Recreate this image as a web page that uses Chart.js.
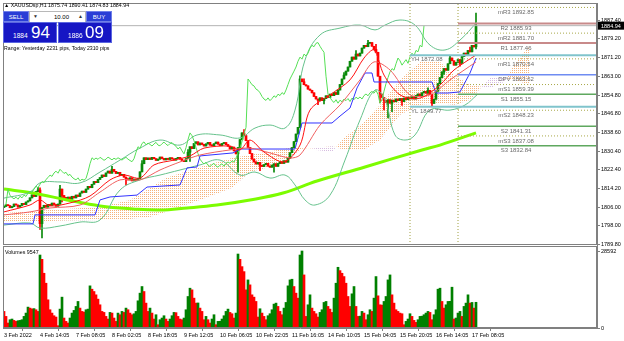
<!DOCTYPE html>
<html>
<head>
<meta charset="utf-8">
<script src="https://cdn.jsdelivr.net/npm/chart.js@4.4.1/dist/chart.umd.min.js"></script>
<style>
  body { margin: 0; background: #fff; width: 624px; height: 341px; overflow: hidden; position: relative;
         font-family: "Liberation Sans", Arial, sans-serif; }
  canvas { position: absolute; left: 0; }
  #main { top: 0; }
  #vol { top: 245px; }
  .abs { position: absolute; white-space: nowrap; }
  #title { left: 4px; top: 2px; font-size: 5.3px; line-height: 7px; color: #000; }
  .btn { background: #2a3ed6; color: #fff; font-size: 6px; text-align: center; line-height: 11px; height: 11px; border: 1px solid #6f7fe8; box-sizing: border-box; }
  #lot { left: 29px; top: 11px; width: 57px; height: 12px; background: #fff; border: 1px solid #b8b8b8; box-sizing: border-box; font-size: 6px; }
  .price { background: #1616c4; color: #fff; height: 21px; top: 22px; border: 1px solid #5a66e0; box-sizing: border-box; }
  .price .sm { position: absolute; bottom: 3px; font-size: 6.6px; }
  .price .big { position: absolute; top: 0px; font-size: 17px; line-height: 19px; }
  #range { left: 4px; top: 45px; font-size: 5.2px; color: #000; }
  #vlabel { left: 5px; top: 249px; font-size: 5.3px; color: #000; }
</style>
</head>
<body>
<canvas id="main" width="624" height="250"></canvas>
<canvas id="vol" width="624" height="96"></canvas>

<div id="title" class="abs"></div>
<div class="abs btn" style="left:3px;top:11px;width:26px;">SELL</div>
<div id="lot" class="abs">
  <span class="abs" style="left:3px;top:1px;font-size:5px;color:#333;">&#9660;</span>
  <span class="abs" style="left:24px;top:2px;color:#000;">10.00</span>
  <span class="abs" style="left:48px;top:1px;font-size:5px;color:#333;">&#9650;</span>
</div>
<div class="abs btn" style="left:86px;top:11px;width:26px;">BUY</div>
<div class="abs price" style="left:3px;width:54px;"><span class="sm" style="left:9px;" id="bidSm"></span><span class="big" style="left:27px;" id="bidBig"></span></div>
<div class="abs price" style="left:58px;width:54px;"><span class="sm" style="left:9px;" id="askSm"></span><span class="big" style="left:26px;" id="askBig"></span></div>
<div id="range" class="abs"></div>
<div id="vlabel" class="abs"></div>

<script>
// ---- data (XAUUSDsp, H1) ----
const symbol = 'XAUUSDsp,H1';
const firstOpen = 1806.0;
const closes = [
  1806.5,1807.2,1806.8,1805.9,1806.4,1807.5,1807.1,1806.2,1806.9,1807.8,1807.3,1808.4,1808.9,
  1810.2,1811.5,1810.8,1812.9,
  1813.6,
  1799.0,1806.0,
  1807.0,1806.2,1807.4,1806.8,1807.9,1807.3,1806.6,1807.5,
  1814.0,
  1811.2,1810.4,1809.8,1810.5,1809.6,1810.9,1810.2,
  1811.4,1810.8,1812.3,1813.1,1812.6,1814.0,1815.2,1814.6,1816.1,1817.3,1816.8,1818.2,1819.0,
  1820.1,1819.5,1821.0,1821.8,1820.9,1822.6,1821.7,
  1820.8,1821.3,1819.9,1820.4,1819.2,1818.5,
  1818.0,1818.9,1817.6,1818.3,1817.9,1818.6,
  1821.5,1825.0,1827.6,
  1826.8,1827.5,1826.9,1827.8,1827.2,1826.5,1827.0,1827.9,1827.3,1826.7,1827.4,1826.9,1827.6,1827.1,1826.6,1827.3,1827.8,1827.0,1826.4,1825.9,1827.2,
  1830.0,1832.4,
  1831.6,1833.8,1834.5,1833.2,1834.0,1833.4,1832.7,1833.6,1834.3,1833.1,1832.8,1833.7,1834.4,1833.5,1832.9,1833.8,1834.2,1833.3,1832.6,
  1831.4,1832.2,1830.6,1829.3,
  1832.0,1835.5,1838.4,1837.2,
  1835.0,1832.1,1829.4,1827.0,1825.8,
  1824.9,1825.6,1824.3,1823.8,1824.6,1825.2,1824.0,1823.5,1824.4,1825.0,1823.9,
  1825.1,1825.8,1825.2,1826.3,1825.7,
  1827.4,1829.8,1832.0,1834.6,1837.9,1840.8,
  1861.8,
  1860.6,1859.3,1858.8,1857.4,1856.9,1855.8,
  1854.2,1853.1,1852.5,1853.6,1852.4,1853.3,
  1854.5,1853.8,1855.2,1854.6,1855.9,1855.1,
  1857.0,1859.4,1861.8,1863.5,1865.2,1867.0,
  1869.5,1871.3,1870.4,1872.6,1871.8,1873.0,
  1875.2,1876.4,1875.8,1877.3,1877.6,
  1876.0,1874.6,1873.4,
  1863.0,1855.2,
  1853.8,1852.4,1851.6,1852.8,1851.3,1852.6,1851.9,1853.1,
  1852.4,1853.3,1852.0,1853.5,1852.8,1853.9,1853.2,
  1854.0,1853.1,1854.6,1855.3,1854.5,1855.8,1856.4,1855.6,1856.9,1855.1,1851.2,1853.0,
  1856.5,1859.8,1862.4,1864.9,1866.3,1865.6,
  1868.4,1870.9,1869.7,1867.8,1869.01,
  1870.2,1868.6,1871.5,1873.0,1871.9,1874.2,1873.6,1876.4,1875.74,
  1884.94
];
// visible wicks only: [bar, price]
const wickHighs = [[17,1814.8],[18,1814.6],[28,1815.6],[54,1823.9],[69,1826.4],[92,1831.2],[120,1839.8],[148,1863.2],
  [150,1861.9],[170,1864.6],[176,1874.1],[182,1878.6],[186,1876.8],[212,1858.0],[223,1872.08],[233,1875.6],[236,1890.41]];
const wickLows = [[18,1796.5],[19,1792.8],[29,1808.4],[61,1815.8],[93,1826.0],[117,1821.4],[128,1822.0],[135,1821.4],
  [157,1850.6],[160,1851.0],[188,1851.5],[190,1848.4],[192,1844.9],[194,1847.6],[199,1850.3],[214,1849.77],[220,1863.8],
  [228,1867.31],[236,1874.83]];

const volumes = [
  6160,4310,1850,3080,3330,2830,2460,2710,2830,3080,
  4310,5540,7760,7390,7100,7200,6780,6160,27100,25500,
  20330,16630,10470,6780,5540,4560,4070,860,7020,11460,
  3700,2460,1850,3700,5540,6530,8010,9860,7390,6160,
  5910,6780,7020,15650,14410,13550,12320,10720,8620,6160,
  5790,4310,3330,5790,5540,3700,2460,5540,4930,6160,
  5790,7390,6780,5540,4930,5300,6160,10100,12940,15400,
  13550,9240,6160,7390,5540,3330,4930,1230,3080,3700,
  4560,3330,2460,3330,4560,5790,5700,4310,3330,3080,
  3700,6780,11700,14780,14170,11090,9240,9300,7390,6160,
  3080,4310,3080,1850,3330,4930,1230,2460,2500,3330,
  4560,6160,7020,5790,5300,3700,5540,27470,25500,22790,
  20940,14170,17860,16020,12320,11460,9860,4070,7150,5540,
  4310,3080,4560,5300,6780,8870,9240,8010,6160,4930,
  7390,9490,15650,17860,18110,15400,12940,11090,27100,28592,
  19710,4310,8620,12320,7390,6160,5300,4070,5790,6780,
  9490,9860,8010,7020,5790,11090,16630,22550,21310,20330,
  19100,16630,11700,8010,12690,15400,8010,4310,4400,6160,
  5540,3080,4930,6780,6160,11090,19100,11950,8620,8500,
  9860,11700,17860,19710,12320,9240,6780,6160,5540,5300,
  1230,2460,3330,5300,4310,2830,2090,3080,4310,4400,
  4930,5540,6160,5790,3080,4930,6780,14410,14780,9860,
  7390,8620,9860,9900,15150,3330,3700,5540,6160,4310,
  8010,9240,12320,9240,9490,7390,9547
];

const labelIdx = [0,18,36,54,72,90,108,126,144,162,180,198,216,234];
const timeLabels = ['3 Feb 2022','4 Feb 14:05','7 Feb 08:05','8 Feb 02:05','8 Feb 18:05','9 Feb 12:05',
  '10 Feb 06:05','10 Feb 22:05','11 Feb 16:05','14 Feb 10:05','15 Feb 04:05','15 Feb 20:05','16 Feb 14:05','17 Feb 08:05'];
const priceTicks = [1887.4,1879.2,1871.2,1863.0,1854.8,1846.8,1838.6,1830.4,1822.4,1814.2,1806.0,1798.0,1789.8];

// indicator lines as [bar, price]
const slowMA = [[0,1814.0],[14.5,1812.3],[31.5,1809.3],[48,1806.7],[64.5,1805.4],[78,1804.9],[91.5,1805.8],[106.5,1807.1],
  [123,1809.3],[139.5,1812.3],[156.5,1817.5],[180.5,1823.6],[209,1831.0],[218,1833.1],[236,1838.4]];
const kijun = [[0,1798.9],[14.5,1798.9],[15.5,1802.8],[45.5,1802.8],[48,1809.3],[53,1810.6],[66.5,1811.4],[71.5,1814.9],
  [88,1815.8],[91.5,1823.2],[96.5,1823.6],[98,1828.4],[114.5,1829.7],[118,1831.4],[145.5,1831.4],[149,1842.7],[164,1842.7],
  [168,1845.7],[173,1849.2],[176.5,1857.9],[180.5,1864.4],[184,1864.4],[185,1860.5],[214,1860.5],[216,1855.7],[222,1855.7],
  [228,1856.2],[233,1864.4],[236,1870.9]];
const fastRed = [[0,1804.1],[13,1807.1],[18,1809.3],[23,1806.7],[33,1808.0],[43,1811.0],[53,1818.0],[60,1820.1],[68,1818.8],
  [75,1824.5],[85,1826.6],[93,1828.4],[100,1831.8],[113,1832.7],[118,1831.0],[123,1835.3],[130,1830.1],[140,1825.8],[148,1833.1],
  [153,1848.3],[163,1854.9],[173,1861.4],[180,1870.9],[185,1874.4],[190,1863.5],[198,1854.9],[208,1853.5],[218,1859.2],
  [225,1865.7],[236,1872.2]];
const slowRed = [[0,1802.8],[13,1804.1],[23,1805.8],[38,1807.1],[48,1812.7],[58,1818.0],[68,1818.0],[78,1822.3],[88,1825.8],
  [98,1828.8],[113,1831.0],[123,1831.8],[133,1829.7],[143,1827.5],[148,1828.8],[158,1841.8],[168,1850.5],[178,1861.4],
  [185,1869.2],[193,1865.7],[203,1854.9],[213,1854.9],[223,1861.4],[236,1869.2]];
const bbUpper = [[0,1810.1],[13,1812.7],[18,1816.7],[28,1817.1],[38,1816.7],[48,1821.4],[58,1826.6],[68,1831.8],[78,1835.3],
  [88,1833.1],[96.5,1837.5],[108,1837.5],[118,1836.2],[125.5,1840.5],[133,1841.8],[140.5,1840.5],[145.5,1848.3],[150.5,1870.0],
  [158,1880.9],[168,1883.9],[178,1885.2],[185.5,1883.1],[190.5,1885.2],[198,1887.4],[205.5,1885.2],[213,1876.5],[220.5,1874.4],
  [228,1878.7],[236.5,1886.5]];
const bbLower = [[0,1798.4],[13,1799.3],[18,1797.1],[28,1798.0],[38,1799.7],[48,1800.6],[58,1813.6],[68,1818.0],[78,1820.1],
  [88,1822.3],[98,1824.5],[108,1826.6],[118,1820.1],[125.5,1821.4],[133,1818.8],[140.5,1820.1],[145.5,1815.8],[150.5,1809.3],
  [155.5,1807.1],[163,1811.4],[170.5,1826.6],[178,1844.0],[185.5,1857.0],[190.5,1852.7],[195.5,1837.5],[200.5,1835.3],
  [205.5,1837.5],[213,1848.3],[223,1848.3],[230.5,1850.5],[236.5,1854.9]];
const cloudIdx = [0,23,48,63,73,81,98,114,123,131,143,148,164,170,180,188,198,208,218,225,233,243,250,255,263];
const senkouA = [1803.6,1804.9,1806.2,1809.3,1814.5,1818.8,1823.6,1827.5,1828.8,1830.1,1831.8,1831.8,1830.1,1836.2,
  1843.1,1850.5,1861.4,1869.2,1869.2,1863.5,1859.2,1857.9,1860.5,1867.9,1876.5];
const senkouB = [1799.7,1800.2,1800.6,1801.0,1801.9,1804.1,1809.3,1814.5,1821.4,1823.2,1827.5,1831.0,1832.7,1831.0,
  1831.0,1835.3,1846.2,1850.5,1851.4,1850.5,1852.7,1862.2,1862.2,1861.4,1859.2];
const chikouShift = 26;

const pivotNames = ['mR3','R2','mR2','R1','mR1','DPV','mS1','S1','mS2','S2','mS3','S3'];
const pivotValues = [1892.85,1885.93,1881.70,1877.46,1870.54,1863.62,1859.39,1855.15,1848.23,1841.31,1837.08,1832.84];
const dayNames = ['YH','YL'];
const dayValues = [1872.08,1849.77];
const daySeps = [203, 227];
const askPrice = 1886.09;

// ---- derived ----
const N = closes.length;
const X_MIN = -0.5, X_MAX = 296.5;
const PRICE_MIN = 1789.74, PRICE_MAX = 1894.78;
const opens = closes.map((c, i) => i === 0 ? firstOpen : closes[i - 1]);
const highs = closes.map((c, i) => Math.max(c, opens[i]));
const lows = closes.map((c, i) => Math.min(c, opens[i]));
wickHighs.forEach(([i, v]) => { highs[i] = v; });
wickLows.forEach(([i, v]) => { lows[i] = v; });
const last = N - 1;

const BULL = '#0a8a0a', BEAR = '#ff0000';
const FONT = '"Liberation Sans", Arial, sans-serif';
const candleColors = closes.map((c, i) => c >= opens[i] ? BULL : BEAR);
const volColors = volumes.map((v, i) => i > 0 && v > volumes[i - 1] ? '#008000' : '#ff0000');

const mainCtx = document.getElementById('main').getContext('2d');
function dots(color) {
  const c = document.createElement('canvas');
  c.width = 2; c.height = 2;
  const g = c.getContext('2d');
  g.fillStyle = color;
  g.fillRect(0, 0, 1, 1);
  return mainCtx.createPattern(c, 'repeat');
}
const pts = arr => arr.map(p => ({x: p[0], y: p[1]}));
function line(data, color, width, order, extra) {
  return Object.assign({type: 'line', data, borderColor: color, borderWidth: width, pointRadius: 0,
    fill: false, order, tension: 0}, extra || {});
}

const datasets = [
  line(cloudIdx.map((x, k) => ({x, y: senkouA[k]})), 'rgba(0,0,0,0)', 0, 30,
    {fill: {target: '+1', above: dots('#f5b27a'), below: dots('#d6bce0')}}),
  line(cloudIdx.map((x, k) => ({x, y: senkouB[k]})), 'rgba(0,0,0,0)', 0, 30),
  {type: 'bar', data: closes.map((c, i) => ({x: i, y: [lows[i], highs[i]]})), backgroundColor: candleColors,
    barThickness: 1, grouped: false, order: 25},
  {type: 'bar', data: closes.map((c, i) => ({x: i, y: [opens[i], c]})), backgroundColor: candleColors,
    barThickness: 2, grouped: false, minBarLength: 1, order: 24},
  line(pts(slowMA), '#7cfc00', 3, 20, {tension: 0.4}),
  line(pts(bbUpper), '#66c28c', 1, 19, {tension: 0.4}),
  line(pts(bbLower), '#66c28c', 1, 19, {tension: 0.4}),
  line(closes.slice(chikouShift).map((c, k) => ({x: k, y: c})), '#55e055', 1, 18),
  line(pts(kijun), '#3232ff', 1, 17),
  line(pts(slowRed), '#f06060', 1, 16, {tension: 0.3}),
  line(pts(fastRed), '#ff1010', 1, 15, {tension: 0.3}),
  line([{x: X_MIN, y: closes[last]}, {x: X_MAX, y: closes[last]}], '#b4b4b4', 1, 14)
];
daySeps.forEach(s => datasets.push(line([{x: s, y: PRICE_MIN}, {x: s, y: PRICE_MAX}], '#a0a040', 1, 13, {borderDash: [1, 2]})));
dayValues.forEach(v => datasets.push(line([{x: daySeps[0], y: v}, {x: X_MAX, y: v}], '#80c4cc', 2, 12)));
pivotNames.forEach((n, k) => {
  const v = pivotValues[k];
  let color = '#5fa85f', w = 1.5, dash = [];
  if (n[0] === 'm') { color = '#a8a848'; w = 1; dash = [1, 2]; }
  else if (n[0] === 'R') { color = '#c88a8a'; w = 2; }
  else if (n === 'DPV') { color = '#6f8cf2'; w = 1.5; }
  datasets.push(line([{x: daySeps[1], y: v}, {x: X_MAX, y: v}], color, w, 11, {borderDash: dash}));
});

const frame = {
  id: 'frame',
  afterDraw(chart) {
    const {ctx, chartArea: a} = chart;
    ctx.save();
    ctx.strokeStyle = '#808080';
    ctx.lineWidth = 1;
    ctx.strokeRect(a.left + 0.5, a.top + 0.5, a.right - a.left - 1, a.bottom - a.top - 1);
    ctx.restore();
  }
};
const levelText = {
  id: 'levelText',
  afterDatasetsDraw(chart) {
    const {ctx, scales: {x, y}} = chart;
    ctx.save();
    ctx.font = '6px ' + FONT;
    ctx.fillStyle = '#6a6a6a';
    ctx.textBaseline = 'middle';
    ctx.textAlign = 'center';
    const cx = x.getPixelForValue(256);
    pivotNames.forEach((n, k) => ctx.fillText(n + ' ' + pivotValues[k].toFixed(2), cx, y.getPixelForValue(pivotValues[k]) + 5));
    ctx.textAlign = 'left';
    dayNames.forEach((n, k) => ctx.fillText(n + ' ' + dayValues[k].toFixed(2), x.getPixelForValue(daySeps[0]) + 1, y.getPixelForValue(dayValues[k]) + 4.5));
    ctx.restore();
  },
  afterDraw(chart) {
    const {ctx, chartArea: a, scales: {y}} = chart;
    const py = y.getPixelForValue(closes[last]);
    ctx.save();
    ctx.fillStyle = '#000';
    ctx.fillRect(a.right + 1, py - 4, 26, 8);
    ctx.fillStyle = '#fff';
    ctx.font = '5.5px ' + FONT;
    ctx.textBaseline = 'middle';
    ctx.fillText(closes[last].toFixed(2), a.right + 4, py + 0.5);
    ctx.restore();
  }
};

new Chart(mainCtx, {
  type: 'bar',
  data: {datasets},
  options: {
    responsive: false,
    animation: false,
    events: [],
    layout: {padding: {left: 3, top: 3, right: 0, bottom: 5}, autoPadding: false},
    plugins: {legend: {display: false}, tooltip: {enabled: false}},
    scales: {
      x: {type: 'linear', min: X_MIN, max: X_MAX, offset: false, display: false},
      y: {
        type: 'linear', position: 'right', min: PRICE_MIN, max: PRICE_MAX,
        afterBuildTicks: s => { s.ticks = priceTicks.map(v => ({value: v})); },
        afterFit: s => { s.width = 27; s.paddingTop = 0; s.paddingBottom = 0; },
        ticks: {autoSkip: false, padding: 1, color: '#000', font: {family: FONT, size: 5.5},
                callback: v => v.toFixed(2)},
        grid: {drawOnChartArea: false, tickLength: 3, color: '#808080'},
        border: {color: '#808080'}
      }
    }
  },
  plugins: [frame, levelText]
});

const volMaxTick = Math.max(...volumes);
new Chart(document.getElementById('vol'), {
  type: 'bar',
  data: {datasets: [{data: volumes.map((v, i) => ({x: i, y: v})), backgroundColor: volColors,
    barThickness: 2, grouped: false}]},
  options: {
    responsive: false,
    animation: false,
    events: [],
    layout: {padding: {left: 3, top: 1, right: 0, bottom: 0}, autoPadding: false},
    plugins: {legend: {display: false}, tooltip: {enabled: false}},
    scales: {
      x: {
        type: 'linear', min: X_MIN, max: X_MAX, offset: false,
        afterBuildTicks: s => { s.ticks = labelIdx.map(v => ({value: v})); },
        afterFit: s => { s.height = 13; s.paddingLeft = 0; s.paddingRight = 0; },
        ticks: {autoSkip: false, maxRotation: 0, align: 'start', padding: 1, color: '#000',
                font: {family: FONT, size: 5.5}, callback: v => timeLabels[labelIdx.indexOf(v)]},
        grid: {drawOnChartArea: false, tickLength: 3, color: '#808080'},
        border: {color: '#808080'}
      },
      y: {
        type: 'linear', position: 'right', min: 0, max: volMaxTick * 82 / 77,
        afterBuildTicks: s => { s.ticks = [0, volMaxTick].map(v => ({value: v})); },
        afterFit: s => { s.width = 27; s.paddingTop = 0; s.paddingBottom = 0; },
        ticks: {autoSkip: false, padding: 1, color: '#000', font: {family: FONT, size: 5.5},
                callback: v => String(v)},
        grid: {drawOnChartArea: false, tickLength: 3, color: '#808080'},
        border: {color: '#808080'}
      }
    }
  },
  plugins: [frame]
});

// ---- trade panel texts ----
const todayLow = Math.min(...lows.slice(daySeps[1]));
const todayHigh = Math.max(...highs.slice(daySeps[1]));
document.getElementById('title').textContent = '\u25B2 ' + symbol + '  ' +
  [opens[last], highs[last], lows[last], closes[last]].map(v => v.toFixed(2)).join(' ');
const bidS = closes[last].toFixed(2), askS = askPrice.toFixed(2);
document.getElementById('bidSm').textContent = bidS.slice(0, 4);
document.getElementById('bidBig').textContent = bidS.slice(5);
document.getElementById('askSm').textContent = askS.slice(0, 4);
document.getElementById('askBig').textContent = askS.slice(5);
document.getElementById('range').textContent = 'Range: Yesterday ' + Math.round((dayValues[0] - dayValues[1]) * 100) +
  ' pips, Today ' + Math.round((todayHigh - todayLow) * 100) + ' pips';
document.getElementById('vlabel').textContent = 'Volumes ' + volumes[last];
</script>
</body>
</html>
